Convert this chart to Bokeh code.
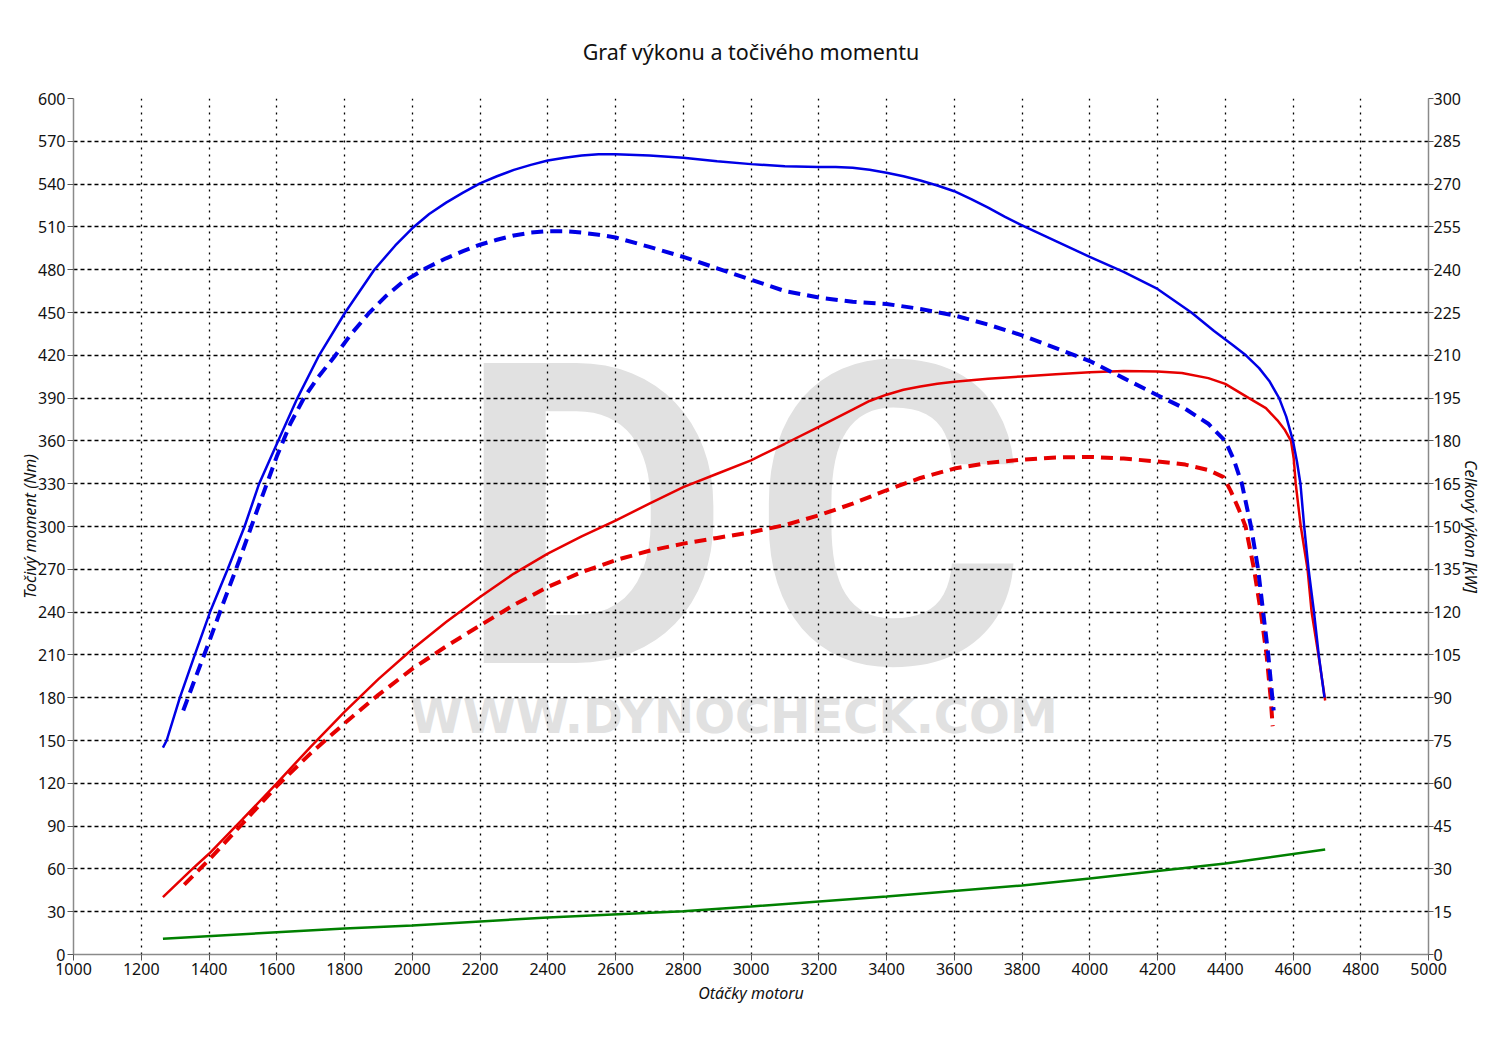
from bokeh.plotting import figure
from bokeh.models import Range1d, LinearAxis, FixedTicker
from bokeh.embed import file_html
from bokeh.resources import INLINE
from bokeh.core.properties import value

# ---------------- data ----------------
title_text = "Graf výkonu a točivého momentu"
x_label = "Otáčky motoru"
y_label_left = "Točivý moment (Nm)"
y_label_right = "Celkový výkon [kW]"

x_ticks = list(range(1000, 5001, 200))
torque_ticks = list(range(0, 601, 30))
power_ticks = list(range(0, 301, 15))

# torque, tuned (blue solid), Nm
rpm_torque_tuned = [1264, 1275, 1314, 1358, 1403, 1455, 1505, 1548, 1604, 1661, 1725, 1802, 1888, 1950,
                    2000, 2050, 2100, 2150, 2200, 2250, 2300, 2350, 2400, 2450, 2500, 2550, 2600, 2700,
                    2800, 2900, 3000, 3100, 3200, 3250, 3300, 3350, 3400, 3450, 3500, 3550, 3600, 3650,
                    3700, 3750, 3800, 3900, 4000, 4100, 4200, 4300, 4367, 4420, 4461, 4500, 4530, 4559,
                    4580, 4600, 4612, 4622, 4633, 4646, 4662, 4676, 4693]
torque_tuned = [145, 150, 180, 210, 240, 270, 300, 330, 360, 390, 420, 450, 480, 497,
                509, 519, 527, 534, 540.5, 545.5, 550, 553.5, 556.5, 558.5, 560, 561, 561, 560,
                558.5, 556, 554, 552.5, 552, 552, 551.5, 550, 548, 545.5, 542.5, 539, 535, 529.5,
                523.5, 517, 511, 500, 489, 478.5, 466.5, 450, 437, 427.5, 420, 411, 402, 390,
                377, 360, 345, 330, 300, 270, 240, 210, 180]

# torque, stock (blue dashed), Nm
rpm_torque_stock = [1324, 1360, 1400, 1440, 1489, 1540, 1600, 1640, 1680, 1720, 1770, 1820, 1870, 1920,
                    1970, 2040, 2100, 2150, 2200, 2250, 2300, 2350, 2400, 2450, 2500, 2550, 2600, 2700,
                    2800, 2900, 3000, 3100, 3200, 3300, 3400, 3500, 3600, 3700, 3800, 3900, 4000, 4100,
                    4200, 4282, 4350, 4400, 4425, 4449, 4476, 4497, 4512, 4527, 4539, 4543]
torque_stock = [171, 194, 219, 245, 276, 310, 349, 372, 390, 404, 419, 435, 449, 461,
                471, 481, 488, 493, 497.5, 501, 504, 506, 507, 507, 506, 504.5, 502.6, 496,
                489, 481, 473, 465, 460.5, 457.5, 456, 452.5, 448, 441.5, 434, 425, 416, 404,
                392, 382.5, 372, 360, 347, 330, 300, 270, 240, 210, 180, 171]

# power, tuned (red solid), kW
rpm_power_tuned = [1264, 1351, 1400, 1500, 1600, 1700, 1800, 1900, 2000, 2100, 2200, 2300, 2400, 2500,
                   2600, 2700, 2800, 2900, 3000, 3100, 3200, 3300, 3350, 3400, 3450, 3500, 3550, 3600,
                   3700, 3800, 3900, 4000, 4100, 4200, 4272, 4350, 4400, 4470, 4520, 4554, 4575, 4594,
                   4602, 4608, 4623, 4643, 4655, 4675, 4695]
power_tuned = [20.1, 30, 35.3, 47.5, 60, 72.8, 85, 96.5, 107, 116.5, 125.3, 133.5, 140.5, 146.5,
               152.1, 158, 163.8, 168.5, 173.2, 179, 184.9, 191, 194, 196.2, 197.9, 199.1, 200, 200.7,
               201.8, 202.6, 203.4, 204.1, 204.5, 204.3, 203.8, 202, 200, 195, 191.5, 187.2, 184, 180,
               174, 165, 150, 135, 120, 105, 89]

# power, stock (red dashed), kW
rpm_power_stock = [1327, 1400, 1500, 1600, 1700, 1800, 1900, 2000, 2100, 2200, 2300, 2400, 2500, 2600,
                   2700, 2800, 2900, 3000, 3100, 3200, 3300, 3400, 3500, 3600, 3700, 3800, 3900, 4000,
                   4100, 4200, 4282, 4350, 4395, 4416, 4440, 4460, 4485, 4505, 4522, 4534, 4540]
power_stock = [24.5, 33.2, 46, 59, 70.5, 81, 91, 100.1, 108, 115.3, 122.5, 128.8, 134, 138.2,
               141.5, 144, 146, 148, 150.5, 153.9, 158, 162.7, 167, 170.3, 172.3, 173.4, 174.2, 174.4,
               173.8, 172.8, 171.7, 169.8, 167.3, 162.5, 156, 150, 135, 120, 105, 90, 80]

# losses (green), kW
rpm_loss = [1264, 1600, 1800, 2000, 2400, 2800, 3000, 3400, 3800, 4000, 4400, 4695]
power_loss = [5.5, 7.8, 9.1, 10.2, 13, 15.2, 16.8, 20.3, 24.2, 26.6, 31.9, 36.8]

# watermark
wm_letters = ["D", "C"]
wm_letter_rpm = [2537, 3408]
wm_url = ["WWW.DYNOCHECK.COM"]

FONT = "Noto Sans"
BLUE = "#0000e6"
RED = "#e60000"
GREEN = "#008000"

p = figure(width=1484, height=1025, output_backend="svg", toolbar_location=None,
           x_range=Range1d(1000, 5000), y_range=Range1d(0, 600),
           min_border_left=73, min_border_right=56, min_border_top=98, min_border_bottom=71,
           title=title_text)
p.extra_y_ranges = {"kw": Range1d(0, 300)}
p.add_layout(LinearAxis(y_range_name="kw", axis_label=y_label_right), "right")

p.background_fill_color = "white"
p.border_fill_color = "white"
p.outline_line_color = None

p.title.align = "center"
p.title.text_font = FONT
p.title.text_font_size = "21.5px"
p.title.text_font_style = "normal"
p.title.text_color = "#111111"
p.title.standoff = 65

p.xaxis.axis_label = x_label
p.yaxis[0].axis_label = y_label_left
p.xaxis.ticker = FixedTicker(ticks=x_ticks)
p.yaxis[0].ticker = FixedTicker(ticks=torque_ticks)
p.yaxis[1].ticker = FixedTicker(ticks=power_ticks)

for ax in p.xaxis + p.yaxis:
    ax.axis_line_color = "#8a8a8a"
    ax.axis_line_width = 1.5
    ax.major_tick_line_color = "#555555"
    ax.major_tick_out = 6
    ax.major_tick_in = 0
    ax.minor_tick_line_color = None
    ax.major_label_text_font = FONT
    ax.major_label_text_font_size = "16px"
    ax.major_label_text_color = "#111111"
    ax.major_label_standoff = 2
    ax.axis_label_text_font = FONT
    ax.axis_label_text_font_size = "16px"
    ax.axis_label_text_font_style = "italic"
    ax.axis_label_text_color = "#111111"
p.xaxis.axis_label_standoff = 4
p.yaxis[0].axis_label_standoff = -6
p.yaxis[1].major_tick_out = 5
p.yaxis[1].major_label_standoff = 0
p.yaxis[1].axis_label_standoff = -4

p.xgrid.grid_line_color = "black"
p.xgrid.grid_line_dash = "2 5"
p.xgrid.grid_line_width = 1.3
p.ygrid.grid_line_color = "black"
p.ygrid.grid_line_dash = "4 3"
p.ygrid.grid_line_width = 1.3

# watermark text (behind the grid)
r1 = p.text(x=wm_letter_rpm, y=[305.6, 305.6], text=wm_letters, text_font=value("Roboto"),
            text_font_style="bold", text_font_size="422px", text_color="#e1e1e1",
            text_align="center", text_baseline="middle")
r1.level = "image"
r2 = p.text(x=[2949], y=[167.2], text=wm_url, text_font=value("DejaVu Sans"), text_font_style="bold",
            text_font_size="48px", text_color="#e1e1e1", text_align="center", text_baseline="middle")
r2.level = "image"

# curves
p.line(rpm_loss, power_loss, y_range_name="kw", line_color=GREEN, line_width=2.5)
p.line(rpm_power_stock, power_stock, y_range_name="kw", line_color=RED, line_width=4, line_dash="12 7")
p.line(rpm_power_tuned, power_tuned, y_range_name="kw", line_color=RED, line_width=2.5)
p.line(rpm_torque_stock, torque_stock, line_color=BLUE, line_width=4, line_dash="12 7")
p.line(rpm_torque_tuned, torque_tuned, line_color=BLUE, line_width=2.5)

open("out.html", "w").write(file_html(p, INLINE))
